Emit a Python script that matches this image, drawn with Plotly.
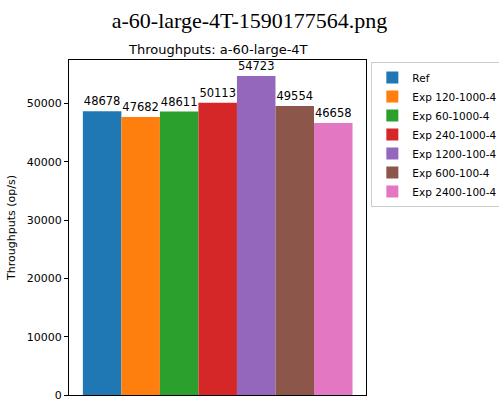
import plotly.graph_objects as go

names = ["Ref", "Exp 120-1000-4", "Exp 60-1000-4", "Exp 240-1000-4",
         "Exp 1200-100-4", "Exp 600-100-4", "Exp 2400-100-4"]
values = [48678, 47682, 48611, 50113, 54723, 49554, 46658]
colors = ["#1f77b4", "#ff7f0e", "#2ca02c", "#d62728", "#9467bd", "#8c564b", "#e377c2"]
y_ticks = [0, 10000, 20000, 30000, 40000, 50000]

fig = go.Figure()
for i, (n, v, c) in enumerate(zip(names, values, colors)):
    fig.add_trace(go.Bar(
        x=[i], y=[v], name=n, marker_color=c, marker_line_width=0, width=1,
        text=[str(v)], textposition="outside", cliponaxis=False,
        textfont=dict(family="DejaVu Sans", size=11.5, color="black"),
    ))

fig.update_layout(
    width=499, height=402,
    margin=dict(l=69, r=133, t=60, b=7, autoexpand=False),
    paper_bgcolor="white", plot_bgcolor="white",
    barmode="overlay",
    showlegend=True,
    font=dict(family="DejaVu Sans", size=11, color="black"),
    title=dict(text="a-60-large-4T-1590177564.png", x=0.5, xanchor="center",
               y=0.95, yanchor="middle", yref="container",
               font=dict(family="Liberation Serif", size=22, color="black")),
    legend=dict(x=1.018, y=0.994, xanchor="left", yanchor="top",
                bordercolor="#cccccc", borderwidth=1,
                font=dict(family="DejaVu Sans", size=10.5, color="black"),
                tracegroupgap=0, itemwidth=30),
    annotations=[dict(text="Throughputs: a-60-large-4T", xref="paper", yref="paper",
                      x=0.5, y=1, yshift=11, showarrow=False, xanchor="center", yanchor="middle",
                      font=dict(family="DejaVu Sans", size=13, color="black"))],
)
fig.update_xaxes(range=[-0.86, 6.85], showticklabels=False, ticks="", showgrid=False,
                 zeroline=False, showline=True, linecolor="black", linewidth=1, mirror=True)
fig.update_yaxes(range=[0, 57459], tickvals=y_ticks, ticktext=[str(t) for t in y_ticks],
                 ticks="outside", ticklen=4, tickcolor="black", showgrid=False, zeroline=False,
                 showline=True, linecolor="black", linewidth=1, mirror=True, automargin=False,
                 ticklabeloverflow="allow", tickfont=dict(size=11),
                 title=dict(text="Throughputs (op/s)", font=dict(size=11), standoff=8))
fig.write_html("out.html")
